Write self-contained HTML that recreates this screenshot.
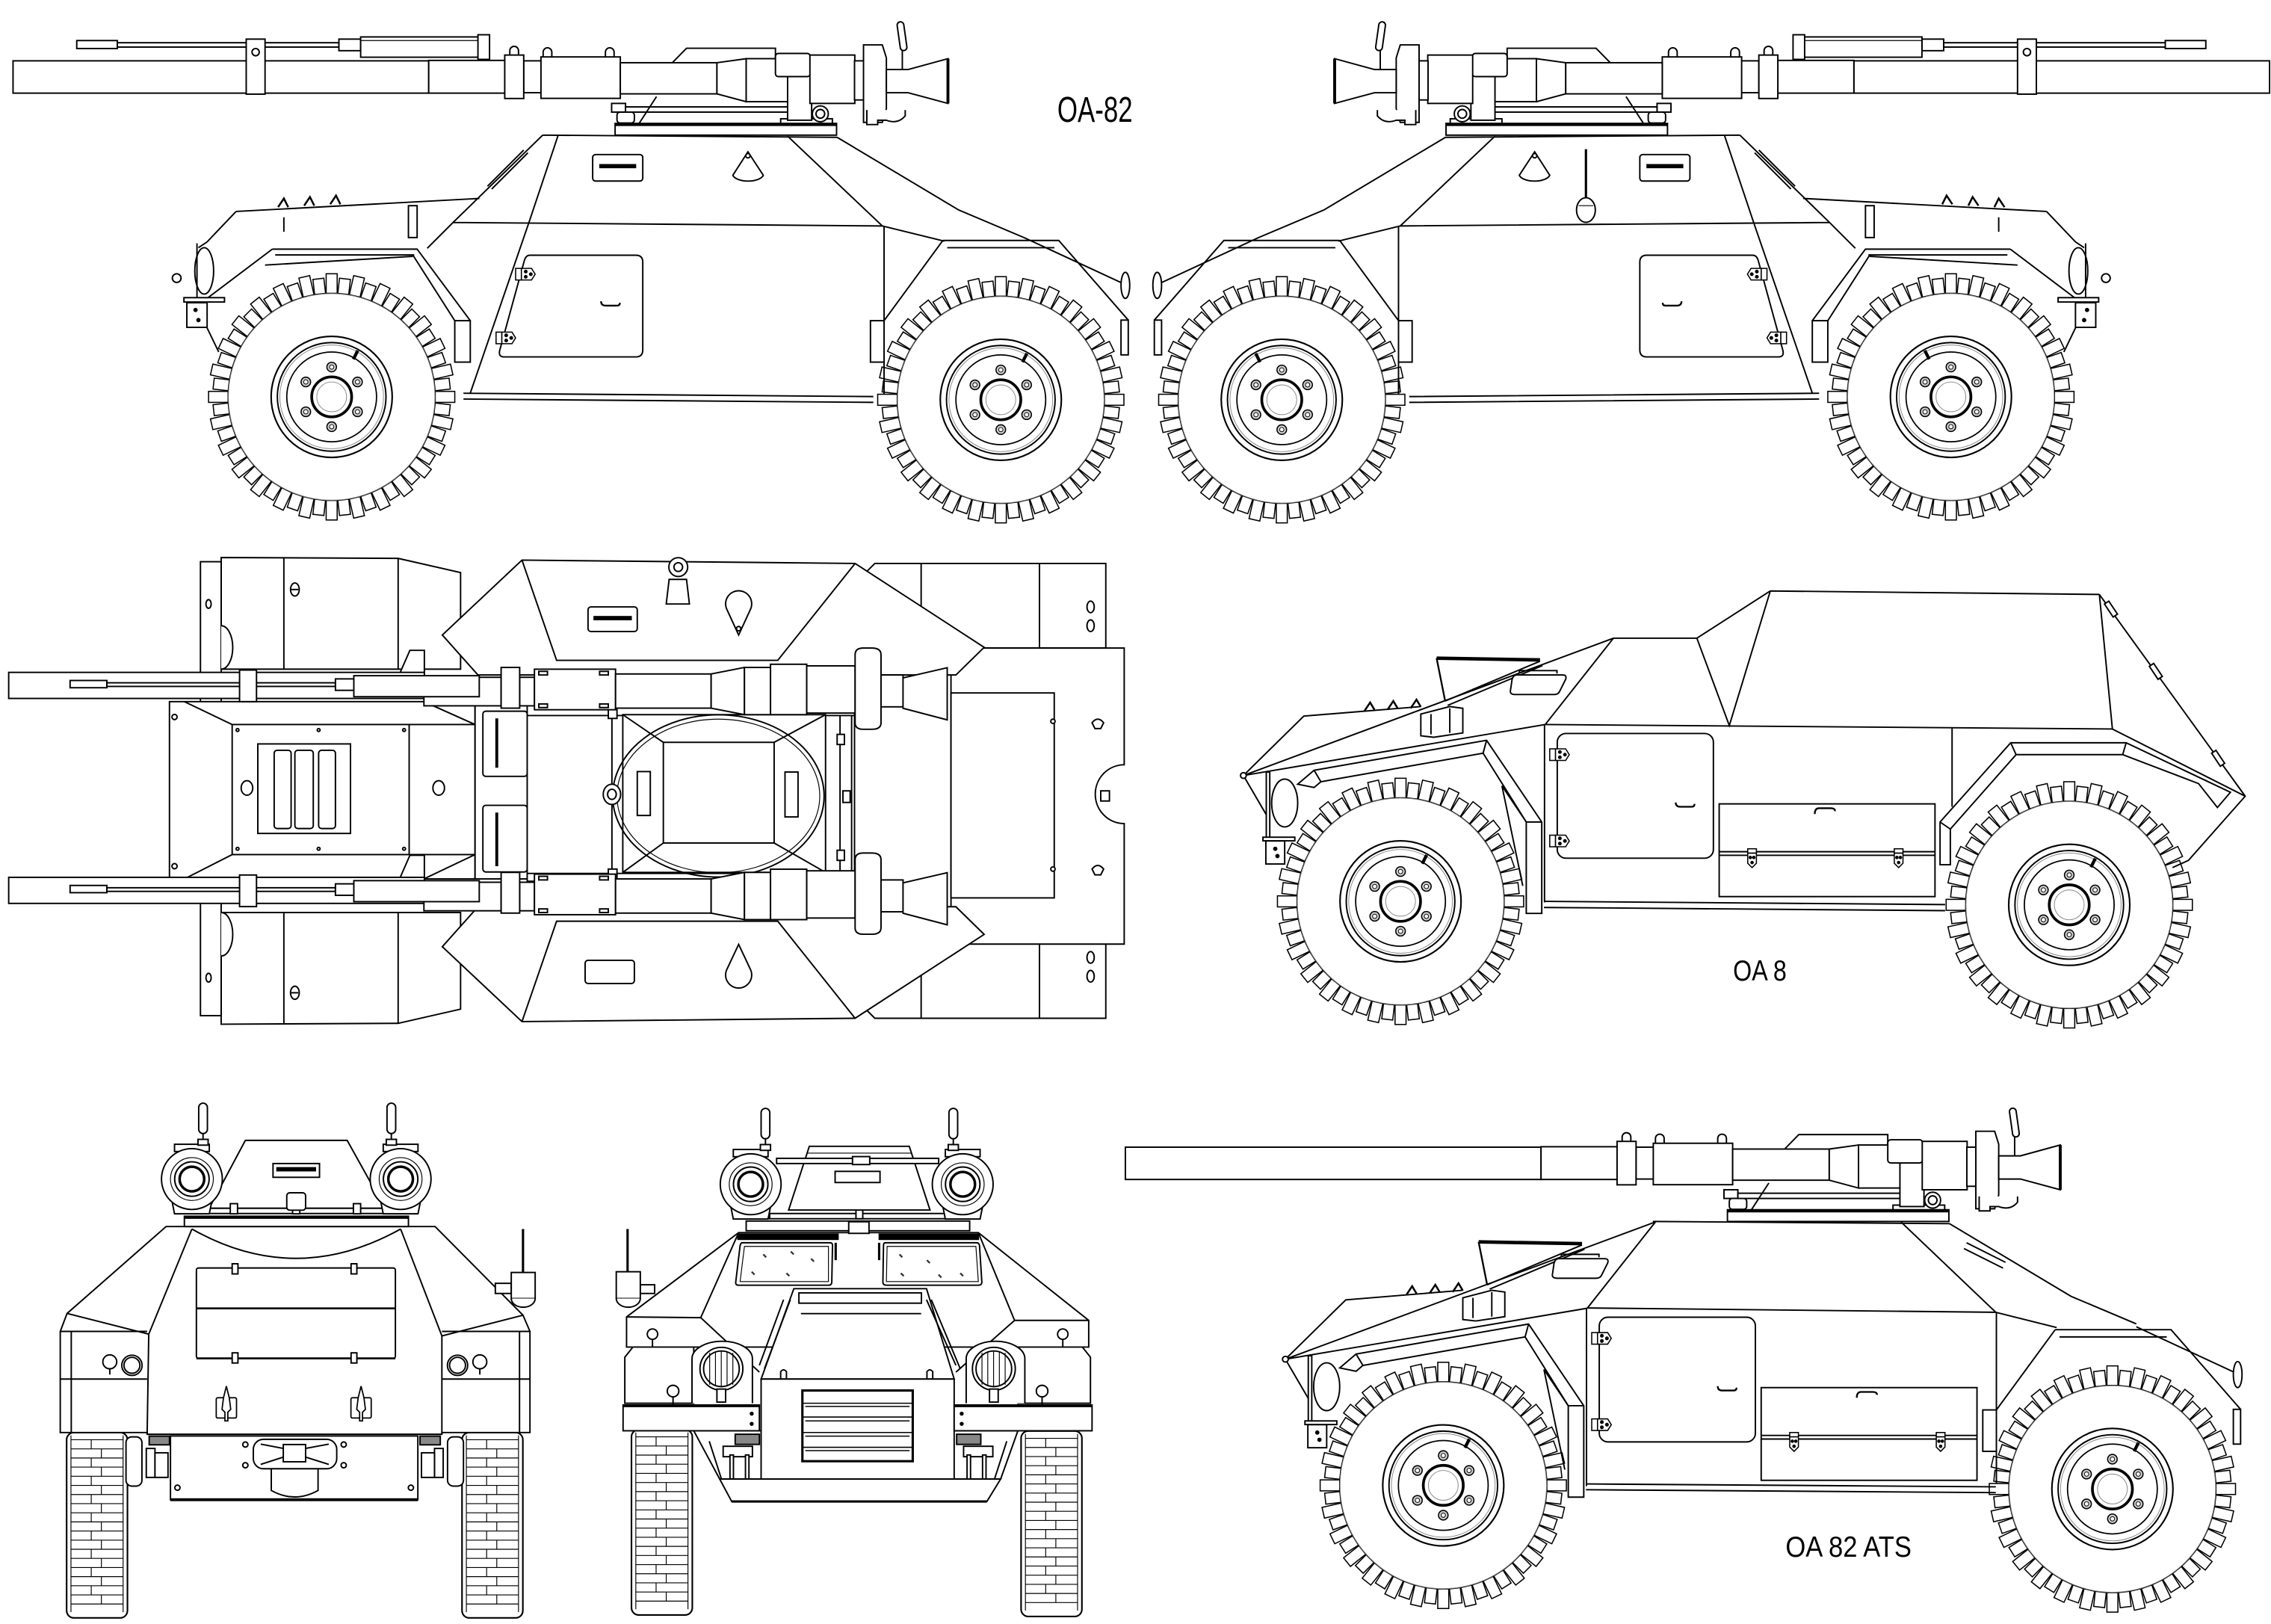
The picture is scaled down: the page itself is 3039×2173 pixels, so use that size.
<!DOCTYPE html>
<html><head><meta charset="utf-8"><style>html,body{margin:0;padding:0;background:#fff}svg{display:block}</style></head>
<body>
<svg xmlns="http://www.w3.org/2000/svg" width="3039" height="2173" viewBox="0 0 1568 1121.2" preserveAspectRatio="none">
<defs>
<rect id="tA" x="-3.8" y="-85" width="7.6" height="13.5"/>
<rect id="tB" x="-3.8" y="-82" width="7.6" height="10.5"/>
<g id="t2"><use href="#tA"/><use href="#tB" transform="rotate(6.43)"/></g>
<g id="wheel">
<circle r="72" fill="#fff" stroke="none"/>
<g fill="#fff" stroke="#000" stroke-width="0.8">
<use href="#t2"/><use href="#t2" transform="rotate(12.857)"/><use href="#t2" transform="rotate(25.714)"/><use href="#t2" transform="rotate(38.571)"/>
<use href="#t2" transform="rotate(51.429)"/><use href="#t2" transform="rotate(64.286)"/><use href="#t2" transform="rotate(77.143)"/><use href="#t2" transform="rotate(90)"/>
<use href="#t2" transform="rotate(102.857)"/><use href="#t2" transform="rotate(115.714)"/><use href="#t2" transform="rotate(128.571)"/><use href="#t2" transform="rotate(141.429)"/>
<use href="#t2" transform="rotate(154.286)"/><use href="#t2" transform="rotate(167.143)"/><use href="#t2" transform="rotate(180)"/><use href="#t2" transform="rotate(192.857)"/>
<use href="#t2" transform="rotate(205.714)"/><use href="#t2" transform="rotate(218.571)"/><use href="#t2" transform="rotate(231.429)"/><use href="#t2" transform="rotate(244.286)"/>
<use href="#t2" transform="rotate(257.143)"/><use href="#t2" transform="rotate(270)"/><use href="#t2" transform="rotate(282.857)"/><use href="#t2" transform="rotate(295.714)"/>
<use href="#t2" transform="rotate(308.571)"/><use href="#t2" transform="rotate(321.429)"/><use href="#t2" transform="rotate(334.286)"/><use href="#t2" transform="rotate(347.143)"/>
</g>
<circle r="71.3" fill="#fff" stroke="#777" stroke-width="0.5"/>
<g fill="none" stroke="#000">
<circle r="41.8" stroke-width="1.1"/>
<circle r="37.5" stroke-width="1"/>
<circle r="35.8" stroke="#888" stroke-width="0.5"/>
<circle r="31" stroke-width="0.9"/>
<circle r="13.8" stroke-width="1.9"/>
<circle r="10.3" stroke="#888" stroke-width="0.5"/>
</g>
<g fill="#ccc" stroke="#000" stroke-width="0.8">
<circle cx="0" cy="-20.6" r="3.3"/><circle cx="17.84" cy="-10.3" r="3.3"/><circle cx="17.84" cy="10.3" r="3.3"/>
<circle cx="0" cy="20.6" r="3.3"/><circle cx="-17.84" cy="10.3" r="3.3"/><circle cx="-17.84" cy="-10.3" r="3.3"/>
</g>
<g fill="#fff" stroke="#000" stroke-width="0.5">
<circle cx="0" cy="-20.6" r="1.5"/><circle cx="17.84" cy="-10.3" r="1.5"/><circle cx="17.84" cy="10.3" r="1.5"/>
<circle cx="0" cy="20.6" r="1.5"/><circle cx="-17.84" cy="10.3" r="1.5"/><circle cx="-17.84" cy="-10.3" r="1.5"/>
</g>
<line x1="15" y1="-26" x2="18" y2="-32" stroke="#000" stroke-width="2.2"/>
</g>

<g id="gun" fill="#fff" stroke="#000" stroke-width="1">
<rect x="422.3" y="71.4" width="9.6" height="6"/>
<rect x="426" y="77.4" width="12" height="7.5" rx="2"/>
<rect x="431.9" y="73.8" width="119" height="3.6"/>
<path d="M441.4,85 L453.3,66.7" fill="none"/>
<rect x="539" y="82" width="35.7" height="3.7"/>
<circle cx="566.4" cy="78.6" r="5.5"/><circle cx="566.4" cy="78.6" r="3"/>
<rect x="424.7" y="85.2" width="152.9" height="8.1"/>
<line x1="424.7" y1="86" x2="577.6" y2="86" stroke-width="2"/>
<polygon points="464,43.5 474,33.3 535.4,33.3 535.4,43.5"/>
<rect x="9" y="42" width="287" height="22.3"/>
<rect x="296" y="41.7" width="52.5" height="22.6"/>
<rect x="361.6" y="42" width="12" height="22"/>
<path d="M352,38 L352,35 A3,3 0 0 1 358,35 L358,38"/>
<rect x="348.5" y="38" width="13.1" height="30"/>
<path d="M375,39.3 L375,36 A3,3 0 0 1 381,36 L381,39.3 M418,39.3 L418,36 A3,3 0 0 1 424,36 L424,39.3"/>
<rect x="373.5" y="39.3" width="54.8" height="28.6"/>
<rect x="428.3" y="43.3" width="66.7" height="21.5"/>
<polygon points="495,43.3 515.2,40.5 515.2,70.2 495,64.8"/>
<rect x="515.2" y="40.5" width="28.6" height="29.7"/>
<rect x="543.8" y="40" width="16.6" height="43"/>
<rect x="535.4" y="36.9" width="24" height="16" rx="2"/>
<rect x="559.2" y="38" width="31" height="33.4"/>
<rect x="590" y="42" width="6.5" height="27"/>
<path d="M596.2,31 L609.2,31 L612,40 L612,75 L609.2,84.5 L596.2,84.5 Z"/>
<polygon points="612,48 627,48 654.5,40.5 654.5,71.4 627,64 612,64"/>
<line x1="654.5" y1="40.5" x2="654.5" y2="71.4" stroke-width="2"/>
<line x1="623" y1="35" x2="623" y2="48"/>
<rect x="620.5" y="15" width="4.6" height="20" rx="2.3" transform="rotate(-8 622.8 25)"/>
<path d="M598.5,76 L598.5,86 L606,86 L606,83 L612,83 Q620,86 625,80 L625,76"/>
</g>

<g id="rifle" fill="#fff" stroke="#000" stroke-width="1">
<rect x="53" y="28" width="28" height="5.5"/>
<rect x="81" y="29.5" width="153" height="3"/>
<rect x="234" y="27" width="15" height="8"/>
<rect x="249" y="25.5" width="87" height="14"/>
<line x1="249" y1="28" x2="336" y2="28" stroke-width="0.6"/>
<rect x="330" y="24" width="8" height="17"/>
<rect x="170" y="27" width="13" height="38"/>
<circle cx="176.5" cy="36" r="2.5"/>
</g>

<g id="rf" stroke="#000" stroke-width="1">
<path d="M651,166 L731,166 L779,221 M651,166 L610.4,221.4 M654,171 L728,171 M707,164 L776,196" fill="none"/>
<rect x="601" y="221.4" width="9.4" height="28.6" fill="#fff"/>
<rect x="774" y="221" width="5" height="24" fill="#fff"/>
<ellipse cx="777" cy="197" rx="3" ry="9" fill="#fff"/>
</g>

<g id="hinge" fill="#fff" stroke="#000" stroke-width="0.8">
<rect x="-3" y="-4" width="4" height="8"/>
<path d="M1,-4 L8,-4 L10.5,0 L8,4 L1,4 Z"/>
<circle cx="4" cy="-1.8" r="0.9" fill="#000"/><circle cx="4" cy="1.8" r="0.9" fill="#000"/><circle cx="7.5" cy="0" r="0.9" fill="#000"/>
</g>
<g id="lh" fill="#fff" stroke="#000" stroke-width="0.8">
<rect x="-3" y="-5" width="6" height="3"/>
<path d="M-3,-2 L3,-2 L3,5 L0,8 L-3,5 Z"/>
<circle cx="-1.2" cy="1" r="0.8" fill="#000"/><circle cx="1.2" cy="1" r="0.8" fill="#000"/><circle cx="0" cy="4.5" r="0.8" fill="#000"/>
</g>
<path id="hdl" d="M0,0 Q0,3 3,3 L11,3 Q13,3 13,1" fill="none" stroke="#000" stroke-width="1.2"/>

<g id="fr" fill="none" stroke="#000" stroke-width="1">
<path d="M858.5,535.4 L1114,440.6 M858.5,535.4 L1066.9,500.2 M858.5,535.4 L900.2,494.4 L981,487.8 M1114,440.6 L1066.9,500.2 M1066.4,500 L1066.4,623 M858.5,535.4 L875.2,564 M1037,542.5 L1051.4,611.6 M1037,542.5 L1053.8,567.5"/>
<path d="M942,491 l4,-6 l3,5 M958,490 l4,-6 l3,5 M974,489 l4,-6 l3,5" stroke-width="1.3"/>
<path d="M991.9,454.4 L1063.3,455.6" stroke-width="2.4"/>
<path d="M991.9,454.4 L997.8,484" stroke-width="1.2"/>
<path d="M997.8,484 L1063.3,456.5 M999.5,487 L1065,459.5"/>
<path d="M1047,466 L1079,466 Q1082,466 1081,469 L1077,477 Q1076,479.5 1073,479.5 L1046,479.5 Q1042,479.5 1043,476 L1044,469 Q1045,466 1047,466 Z" fill="#fff"/>
<path d="M1049,465 L1049,463 L1075,463 L1075,465"/>
<polygon points="981,493 1001,487.8 1010,489 1010,506 990,509 981,508" fill="#fff"/>
<path d="M988,493 L988,507 M1001,489 L1001,506"/>
<polygon points="896,541.4 907.3,531.8 1026.4,511.1 1064.5,567.5 1064.5,630.6 1053.8,630.6 1053.8,567.5 1024,520 912,539.7 907.3,543.7" fill="#fff"/>
<path d="M907.3,531.8 L912,539.7 M1026.4,511.1 L1024,520 M1053.8,567.5 L1064.5,567.5"/>
<ellipse cx="887" cy="554.4" rx="9" ry="16.5" fill="#fff"/>
<rect x="874.3" y="533" width="2.4" height="47.6" fill="#fff"/>
<rect x="872" y="578" width="22" height="2.5" fill="#fff"/>
<rect x="874" y="580.6" width="13" height="15.9" fill="#fff"/>
<circle cx="880.5" cy="586" r="1" fill="#000"/><circle cx="882" cy="591" r="1" fill="#000"/>
<circle cx="858.5" cy="535.4" r="2" fill="#fff"/>
<rect x="1075.2" y="506.4" width="107.8" height="86.1" rx="6" fill="#fff"/>
<use href="#hinge" x="1073" y="521"/><use href="#hinge" x="1073" y="580.6"/>
<use href="#hdl" x="1157" y="554"/>
<rect x="1187" y="555" width="149" height="64" fill="#fff"/>
<path d="M1187,588 L1336,588 M1187,590.5 L1336,590.5"/>
<use href="#lh" x="1209.7" y="591"/><use href="#lh" x="1310.9" y="591"/>
<path d="M1253,562 Q1253,558 1256,558 L1264,558 Q1267,558 1267,560" fill="none" stroke-width="1.2"/>
</g>

<g id="tt">
<rect x="0" y="0" width="42" height="128" rx="5" fill="#fff" stroke="#000" stroke-width="1.1"/>
<path d="M3,2 V124 M39,2 V124" stroke="#000" stroke-width="0.6" fill="none"/>
<path stroke="#000" stroke-width="0.6" fill="none" d="M3,5H39 M3,11.3H39 M3,17.6H39 M3,23.9H39 M3,30.2H39 M3,36.5H39 M3,42.8H39 M3,49.1H39 M3,55.4H39 M3,61.7H39 M3,68H39 M3,74.3H39 M3,80.6H39 M3,86.9H39 M3,93.2H39 M3,99.5H39 M3,105.8H39 M3,112.1H39 M3,118.4H39
M17,5V11.3 M24,11.3V17.6 M17,17.6V23.9 M24,23.9V30.2 M17,30.2V36.5 M24,36.5V42.8 M17,42.8V49.1 M24,49.1V55.4 M17,55.4V61.7 M24,61.7V68 M17,68V74.3 M24,74.3V80.6 M17,80.6V86.9 M24,86.9V93.2 M17,93.2V99.5 M24,99.5V105.8 M17,105.8V112.1 M24,112.1V118.4"/>
</g>

<g id="sight" fill="#fff" stroke="#000" stroke-width="1">
<path d="M-14,14 L-12,24 L12,24 L14,14"/>
<rect x="-12" y="-24" width="24" height="5"/>
<circle r="21"/>
<circle r="14.8" stroke-width="0.6"/>
<circle r="11.9"/>
<circle r="8.5" stroke-width="1.8"/>
</g>
<g id="hnd" fill="#fff" stroke="#000" stroke-width="1">
<line x1="0" y1="20" x2="0" y2="28"/>
<rect x="-3" y="0" width="6" height="21" rx="3"/>
<rect x="-3.5" y="25" width="7" height="4"/>
</g>
<g id="pin" fill="#fff" stroke="#000" stroke-width="0.9">
<rect x="-7" y="-6" width="14" height="14" rx="1"/>
<path d="M0,-14 L2,-6 L3,2 L1,4 L1,10 L-1,10 L-1,4 L-3,2 L-2,-6 Z"/>
</g>

<g id="pgun" fill="#fff" stroke="#000" stroke-width="1">
<polygon points="276,465 283,449 293,449 293,465"/>
<rect x="6" y="464.2" width="287" height="18"/>
<rect x="292.7" y="467.6" width="53.3" height="19.7"/>
<rect x="358.8" y="467.6" width="10.2" height="19.7"/>
<rect x="346" y="460.8" width="12.8" height="28.1"/>
<rect x="369" y="462" width="56" height="28"/>
<rect x="372" y="463.5" width="6" height="2.5"/><rect x="372" y="486" width="6" height="2.5"/>
<rect x="414" y="463.5" width="6" height="2.5"/><rect x="414" y="486" width="6" height="2.5"/>
<rect x="425" y="465.3" width="66" height="23.6"/>
<polygon points="491,465.3 514,460.8 514,493.4 491,488.9"/>
<rect x="514" y="460.8" width="18" height="32.6"/>
<rect x="532" y="458.6" width="25" height="34.8"/>
<rect x="557" y="459.7" width="33.4" height="32.6"/>
<path d="M590.4,452 Q590.4,447.4 596,447.4 L602,447.4 Q608.3,447.4 608.3,452 L608.3,499 Q608.3,503.5 602,503.5 L596,503.5 Q590.4,503.5 590.4,499 Z"/>
<rect x="608.3" y="466" width="15.2" height="22"/>
<polygon points="623.5,468 654,461 654,497 623.5,489"/>
<rect x="48.4" y="469.8" width="25.4" height="5"/>
<rect x="73.8" y="471.4" width="157.8" height="2.5"/>
<rect x="231.6" y="468.7" width="12.7" height="7.9"/>
<rect x="244.3" y="466.5" width="86.6" height="14.5"/>
<rect x="165.4" y="462.6" width="11.7" height="21.8"/>
</g>
</defs>

<!-- ============ TOP LEFT: OA-82 side ============ -->
<g id="tl">
<use href="#wheel" x="229" y="274"/>
<use href="#wheel" x="691" y="276"/>
<g fill="none" stroke="#000" stroke-width="1">
<path d="M374.7,93.3 L578,94.8 M374.7,93.3 L312.8,153.6 L295,171.4 M385.4,93.3 L365.2,153.6 L324.7,271.4 M543.8,94 L609.2,156 M578,94.8 L662,145 L707,164 M312.8,153.6 L609.2,156 L652,166.5 M610.4,156 L610.4,272 M320,271.5 L603,273.8 M320,275.5 L603,277.8 M163,146 L331,137 M163,146 L143,167 L137,171 M190,176 L286,176 M188,172 L143,206 M285,176 L314,221.4 M183,183 L285,177 M196,150 L196,160 M336.6,128.6 L361.6,103.6 M339.5,130.5 L364.5,105.5 M142.8,226 L151,243 M188,172 L288,172 L324.7,221.4"/>
<path d="M192,143 l4,-6 l3,6 M210,142 l4,-6 l3,6 M228,141 l4,-6 l3,6" stroke-width="1.3"/>
<rect x="282" y="142" width="6" height="22" fill="#fff"/>
<rect x="314" y="221.4" width="10.7" height="28.6" fill="#fff"/>
<ellipse cx="141" cy="187" rx="6.5" ry="16" fill="#fff"/>
<line x1="136" y1="168" x2="136" y2="210"/>
<rect x="127" y="205.5" width="28" height="3" fill="#fff"/>
<rect x="129" y="209" width="14" height="17" fill="#fff"/>
<circle cx="135" cy="214" r="1" fill="#000"/><circle cx="137" cy="221" r="1" fill="#000"/>
<circle cx="122" cy="192" r="3" fill="#fff"/>
<rect x="409.2" y="106.7" width="34.6" height="18.3" rx="2" fill="#fff"/>
<rect x="414" y="113.5" width="25" height="2.4" fill="#000" stroke-width="0.5"/>
<path d="M516.4,104.8 L506,121 A10.7,5 0 0 0 527,121 Z" fill="#fff"/>
<circle cx="516.4" cy="107.5" r="1.5"/>
<path d="M366,176.2 L439,176.2 Q443.8,176.2 443.8,181 L443.8,241.6 Q443.8,246.4 439,246.4 L348,246.4 Q344,246.4 345,242 L362,180 Q363,176.2 366,176.2 Z" fill="#fff"/>
</g>
<use href="#rf"/>
<use href="#hinge" x="359" y="189.3"/><use href="#hinge" x="345.5" y="233.3"/>
<use href="#hdl" x="415" y="208"/>
<use href="#gun"/>
<use href="#rifle"/>
</g>

<!-- ============ TOP RIGHT: mirrored ============ -->
<use href="#tl" transform="matrix(-1,0,0,1,1576,0)"/>
<g stroke="#000" fill="#fff">
<path d="M1095,103 L1095,138" stroke-width="1.6"/>
<ellipse cx="1095" cy="145" rx="6.5" ry="8.5" stroke-width="1"/>
<path d="M1090,142 L1100,142" stroke-width="0.6"/>
</g>
<text x="730" y="84" font-family="'Liberation Sans', sans-serif" font-size="25" textLength="52" lengthAdjust="spacingAndGlyphs" fill="#000">OA-82</text>

<!-- ============ PLAN VIEW ============ -->
<g stroke="#000" stroke-width="1" fill="#fff">
<path d="M598,395 L604,389 L763.5,389 L763.5,447.4 L598,447.4 Z"/>
<path d="M636,389 V447.4 M717.7,389 V447.4" fill="none"/>
<ellipse cx="753" cy="419" rx="2.5" ry="4"/><ellipse cx="753" cy="432" rx="2.5" ry="4"/>
<path d="M598,697 L604,703 L763.5,703 L763.5,645 L598,645 Z"/>
<path d="M636,645 V703 M717.7,645 V703" fill="none"/>
<ellipse cx="753" cy="661" rx="2.5" ry="4"/><ellipse cx="753" cy="674" rx="2.5" ry="4"/>
<path d="M656.6,447.4 L776.2,447.4 L776.2,528 A20,20.3 0 0 0 776.2,568.6 L776.2,651.8 L656.6,651.8 Z"/>
<rect x="656.6" y="478.4" width="71.3" height="141.5"/>
<circle cx="727" cy="498" r="1.5"/><circle cx="727" cy="600" r="1.5"/>
<path d="M754,499 Q758,494 762,499 L760,503 L756,503 Z"/><path d="M754,600 Q758,595 762,600 L760,604 L756,604 Z"/>
<rect x="760" y="546" width="6" height="7"/>
<path d="M152.7,384.9 L274.9,385.5 L318,395.3 L318,462 L152.7,462 Z"/>
<path d="M196,385 V462 M274.9,385.5 V462" fill="none"/>
<ellipse cx="203.6" cy="407" rx="3" ry="4.5"/><line x1="201" y1="407" x2="206" y2="407"/>
<path d="M152.7,707.1 L274.9,706.5 L318,696.7 L318,630 L152.7,630 Z"/>
<path d="M196,630 V707 M274.9,630 V706.5" fill="none"/>
<ellipse cx="203.6" cy="685.4" rx="3" ry="4.5"/><line x1="201" y1="685.4" x2="206" y2="685.4"/>
<rect x="138.4" y="387.8" width="14.3" height="313.4"/>
<ellipse cx="144" cy="417" rx="1.8" ry="3"/><ellipse cx="144" cy="675" rx="1.8" ry="3"/>
<path d="M152.7,432 A8,15 0 0 1 152.7,462"/>
<path d="M152.7,630 A8,15 0 0 1 152.7,660"/>
<path d="M305.4,438.4 L360.4,386.7 L590.4,389 L679.5,446.9 L660,466 L330,466 Z"/>
<path d="M360.4,386.7 L384.3,455.9 L537,455.9 L590.4,389" fill="none"/>
<rect x="406" y="419" width="34" height="17" rx="2"/>
<rect x="410" y="425.5" width="26" height="2.5" fill="#000" stroke-width="0.5"/>
<path d="M510,438.4 L502,421 A9,9 0 1 1 518,421 Z"/>
<circle cx="510" cy="434" r="1.5"/>
<path d="M462,400 L474,400 L476,417 L460,417 Z"/>
<circle cx="468.3" cy="391.5" r="6.5"/><circle cx="468.3" cy="391.5" r="3"/>
<path d="M305.4,653.6 L360.4,705.3 L590.4,703 L679.5,645.1 L660,626 L330,626 Z"/>
<path d="M360.4,705.3 L384.3,636 L537,636 L590.4,703" fill="none"/>
<rect x="404" y="663" width="34" height="16" rx="2"/>
<path d="M510,652 L502,669 A9,9 0 1 0 518,669 Z"/>
<rect x="117" y="484.4" width="211" height="122.4"/>
<rect x="160.3" y="500.2" width="167.7" height="89.8"/>
<path d="M282.5,500.2 V590 M127.3,484.4 L160.3,500.2 M292.7,484.4 L328,500.2 M127.3,606.8 L160.3,590 M292.7,606.8 L328,590" fill="none"/>
<circle cx="120.5" cy="495" r="1.8"/><circle cx="120.5" cy="598" r="1.8"/>
<circle cx="164" cy="504" r="1"/><circle cx="279" cy="504" r="1"/><circle cx="164" cy="586" r="1"/><circle cx="279" cy="586" r="1"/><circle cx="220" cy="586" r="1"/><circle cx="220" cy="504" r="1"/>
<rect x="178" y="513.6" width="64" height="61.8"/>
<rect x="189.3" y="518" width="11.7" height="54" rx="2"/>
<rect x="203.6" y="518" width="12.7" height="54" rx="2"/>
<rect x="220" y="518" width="11.6" height="54" rx="2"/>
<ellipse cx="170.5" cy="544" rx="4" ry="5"/><ellipse cx="302.9" cy="544" rx="4" ry="5"/>
<rect x="328" y="484.4" width="36" height="122.4"/>
<rect x="333.4" y="491" width="30.6" height="45" rx="2"/>
<rect x="333.4" y="556" width="30.6" height="46" rx="2"/>
<path d="M343,496 V530 M343,561 V598" fill="none" stroke-width="2"/>
<rect x="364" y="484.4" width="226" height="124"/>
<path d="M364,494 H590 M364,603 H590 M422.5,494 V603 M580,494 V603 M588,494 V603" fill="none"/>
<rect x="430" y="493.4" width="140" height="108.9"/>
<ellipse cx="496" cy="549.5" rx="73" ry="56" fill="none"/>
<ellipse cx="496" cy="549.5" rx="70" ry="53" fill="none" stroke-width="0.6"/>
<rect x="458" y="512.5" width="76.5" height="69.5"/>
<path d="M430,493.4 L458,512.5 M570,493.4 L534.5,512.5 M430,602.3 L458,582 M570,602.3 L534.5,582" fill="none"/>
<rect x="440" y="532.7" width="9" height="30.3"/>
<rect x="542" y="533" width="9" height="31"/>
<ellipse cx="422.5" cy="548.4" rx="6" ry="7"/><ellipse cx="422.5" cy="548.4" rx="3" ry="3.5"/>
<rect x="578" y="507" width="5" height="7"/><rect x="578" y="587" width="5" height="7"/><rect x="582" y="546" width="5" height="8"/>
<rect x="420" y="489" width="6" height="7"/><rect x="420" y="600" width="6" height="7"/>
</g>
<use href="#pgun"/>
<use href="#pgun" transform="translate(0,141.5)"/>

<!-- ============ OA 8 ============ -->
<use href="#wheel" x="967" y="622.3"/>
<use href="#wheel" x="1428.7" y="624.7"/>
<g fill="none" stroke="#000" stroke-width="1">
<path d="M1222.3,408 L1449.5,410.4 M1114,440.6 L1171.6,440.6 L1222.3,408 M1171.6,440.6 L1194,500.9 L1222.3,408 M1066.9,500.2 L1458.5,503.3 M1449.5,410.4 L1458.5,503.3 L1550.2,549.7 M1449.5,410.4 L1550.2,549.7 L1511,594 L1500,599 M1347.8,502 L1347.8,557 M1066,622.3 L1343,624.5 M1066,626.5 L1343,628.7"/>
<path d="M1453,417 L1456,415 L1462,424 L1459,426 Z M1484,460 L1487,458 L1493,467 L1490,469 Z M1527,520 L1530,518 L1536,527 L1533,529 Z" fill="#fff"/>
<polygon points="1339.5,567.5 1388.3,512.8 1468,512.8 1540,547 1531,557.5 1518,541 1465.6,521 1392,521 1346.6,572.4 1346.6,597 1339.5,597" fill="#fff"/>
<path d="M1388.3,512.8 L1392,521 M1468,512.8 L1465.6,521 M1339.5,567.5 L1346.6,572.4"/>
</g>
<use href="#fr"/>
<text x="1196.6" y="677" font-family="'Liberation Sans', sans-serif" font-size="20" textLength="37" lengthAdjust="spacingAndGlyphs" fill="#000">OA 8</text>

<!-- ============ OA 82 ATS ============ -->
<use href="#wheel" x="996.5" y="1025.5"/>
<use href="#wheel" x="1458.5" y="1028"/>
<g fill="none" stroke="#000" stroke-width="1">
<path d="M1141.2,843.3 L1346,844.8 M1312.6,843.7 L1378,906 M1346,844.8 L1430,895 L1475,914 M1095.9,903 L1378,906 L1420,916.5 M1378.4,906 L1378.4,1024 M1095,1024.5 L1378,1026.5 M1095,1028.5 L1378,1030.5"/>
<path d="M1357.8,858 L1384.7,871.5 M1356,862 L1383,875.5"/>
</g>
<use href="#rf" transform="translate(768,752)"/>
<use href="#fr" transform="translate(29,403)"/>
<use href="#gun" transform="translate(768,750)"/>
<text x="1232.8" y="1074.7" font-family="'Liberation Sans', sans-serif" font-size="20" textLength="87" lengthAdjust="spacingAndGlyphs" fill="#000">OA 82 ATS</text>

<!-- ============ REAR VIEW ============ -->
<use href="#tt" transform="translate(46,989)"/>
<use href="#tt" transform="translate(319,989)"/>
<g stroke="#000" stroke-width="1" fill="#fff">
<rect x="87" y="992" width="11" height="34" rx="4"/>
<rect x="101" y="1000" width="6" height="20"/>
<rect x="107" y="1003" width="9" height="17"/>
<rect x="103" y="991.5" width="14" height="6" fill="#888"/>
<rect x="309" y="992" width="11" height="34" rx="4"/>
<rect x="300" y="1000" width="6" height="20"/>
<rect x="291" y="1003" width="9" height="17"/>
<rect x="290" y="991.5" width="14" height="6" fill="#888"/>
<path d="M114.7,846.8 L300.4,846.8 L361.1,908 L365.9,919.2 L365.9,989 L305.1,989 L305.1,990.2 L101.6,990.2 L101.6,989 L41.6,989 L41.6,919.2 L46.3,906.8 Z"/>
<path fill="none" d="M46.3,906.8 L102.7,921.1 M361.1,908 L305.1,922.3 M132.5,848.5 L102.7,921.1 L101.6,990 M276.6,848.5 L305.1,922.3 L305.1,990 M41.6,919.2 L101.6,919.2 M305.1,919.2 L365.9,919.2 M49.2,919.2 V989 M358.7,919.2 V989 M41.6,952.1 H101.6 M305.1,952.1 H365.9 M132.5,848.5 Q204,889 276.6,848.5"/>
<rect x="135.6" y="875.4" width="137.4" height="62.4" rx="1.5"/>
<path d="M135.6,903.3 H273 M135.6,937.8 H273" fill="none" stroke-width="1.4"/>
<rect x="160.3" y="872.5" width="4" height="7"/><rect x="242.4" y="872.5" width="4" height="7"/>
<rect x="160.3" y="934" width="4" height="7"/><rect x="242.4" y="934" width="4" height="7"/>
<circle cx="75.8" cy="940.2" r="4.8"/><line x1="75.8" y1="945" x2="75.8" y2="949"/>
<circle cx="91.1" cy="942.6" r="7"/><circle cx="91.1" cy="942.6" r="5.5"/>
<circle cx="315.9" cy="942.6" r="7"/><circle cx="315.9" cy="942.6" r="5.5"/>
<circle cx="331.3" cy="940.2" r="4.8"/><line x1="331.3" y1="945" x2="331.3" y2="949"/>
<use href="#pin" x="156.3" y="971"/><use href="#pin" x="249.3" y="971"/>
<rect x="117.7" y="991.4" width="170.8" height="44"/>
<line x1="117.7" y1="1035.4" x2="288.5" y2="1035.4" stroke-width="2"/>
<path d="M187.3,1014 V1029 Q203.5,1038 219.6,1029 V1014" />
<rect x="174.9" y="993.7" width="57.6" height="20.3" rx="7"/>
<rect x="195.6" y="997.3" width="15.4" height="11.9"/>
<path fill="none" d="M180,997 L195.6,1000 M180,1011 L195.6,1006 M227,997 L211,1000 M227,1011 L211,1006"/>
<circle cx="169.4" cy="997.3" r="1.8"/><circle cx="237.3" cy="997.3" r="1.8"/><circle cx="169.4" cy="1011.6" r="1.8"/><circle cx="237.3" cy="1011.6" r="1.8"/><circle cx="122.5" cy="1027.1" r="1.8"/><circle cx="283.7" cy="1027.1" r="1.8"/>
<rect x="127.3" y="839.7" width="154.7" height="7.1"/>
<line x1="127.3" y1="840.5" x2="282" y2="840.5" stroke-width="2"/>
<polygon points="169.4,787.3 239.7,787.3 265.8,834.2 144.4,834.2"/>
<rect x="144.4" y="834.2" width="121.4" height="3.6"/>
<rect x="159" y="831" width="5" height="7"/><rect x="202" y="831" width="5" height="7"/><rect x="244" y="831" width="5" height="7"/>
<rect x="198" y="823.5" width="13" height="12" rx="2"/>
<rect x="188.5" y="803.3" width="32.1" height="9.5"/>
<rect x="191" y="806" width="27" height="2.5" fill="#000" stroke-width="0.5"/>
<path d="M361.1,848.5 V879.5" stroke-width="1.6"/>
<rect x="342" y="886" width="11" height="7"/>
<rect x="353" y="878.5" width="16.5" height="18"/>
<path d="M353,896.5 A8.25,6 0 0 0 369.5,896.5"/>
</g>
<use href="#sight" x="132.5" y="814"/><use href="#sight" x="276.6" y="814"/>
<use href="#hnd" x="140.2" y="761.6"/><use href="#hnd" x="270.2" y="761.6"/>

<!-- ============ FRONT VIEW ============ -->
<use href="#tt" transform="translate(436,987)"/>
<use href="#tt" transform="translate(705,988)"/>
<g stroke="#000" stroke-width="1" fill="#fff">
<polygon points="479,987.8 496.9,1021.1 690.9,1021.1 702.8,987.8"/>
<rect x="507.6" y="990.2" width="16.7" height="7" fill="#888"/>
<rect x="499.3" y="998.5" width="20.2" height="7.2"/>
<rect x="504" y="1004.5" width="2.4" height="17.8"/><rect x="514.7" y="1004.5" width="2.4" height="17.8"/>
<rect x="660.5" y="990.2" width="16.7" height="7" fill="#888"/>
<rect x="665.3" y="998.5" width="20.2" height="7.2"/>
<rect x="678.4" y="1004.5" width="2.4" height="17.8"/><rect x="667.7" y="1004.5" width="2.4" height="17.8"/>
<path fill="none" d="M489.7,995 L498.1,1021 M695.1,995 L686.7,1021"/>
<polygon points="496.9,1021.1 505.2,1036.6 681.4,1036.6 690.9,1021.1"/>
<line x1="505.2" y1="1036.6" x2="681.4" y2="1036.6" stroke-width="1.6"/>
<polygon points="510,851 675.5,851 751.7,911.6 751.7,930 432.6,930 432.6,909.2"/>
<path fill="none" d="M432.6,909.2 L483.8,909.7 L510,851 M483.8,909.7 L524.3,947.3 M675.5,851 L700.5,911.6 L751.7,911.6 M700.5,911.6 L660,947.3"/>
<polygon points="431.4,937 437,930 479,930 479,968.8 431.4,968.8"/>
<polygon points="702.8,930 747.3,930 752.9,937 752.9,968.8 702.8,968.8"/>
<polygon points="548.1,889.7 639.7,889.7 658.8,952.1 525.5,952.1"/>
<rect x="551.6" y="892.6" width="84.6" height="7.1"/>
<path fill="none" d="M553,906.9 H636 M541,897.3 L524.3,942.6 M545.7,897.3 L527.8,945 M639.7,897.3 L660,942.6 M643,897.3 L663,945"/>
<rect x="525.5" y="952.1" width="133.3" height="69"/>
<rect x="554" y="960" width="76.2" height="48.8" stroke-width="1.6"/>
<path fill="none" d="M554,968.8 H630.2 M554,978.3 H630.2 M554,989 H630.2 M554,999.2 H630.2 M556,971 H628 M556,981 H628 M556,991.5 H628 M556,1001.5 H628" stroke-width="0.8"/>
<path d="M539,952 L539,947 Q541,944.5 543,947 L543,952 Z M640,952 L640,947 Q642,944.5 644,947 L644,952 Z"/>
<path d="M477.8,968.8 L477.8,938 A20.85,12 0 0 1 519.5,938 L519.5,968.8"/>
<circle cx="498.1" cy="945" r="14.8"/><circle cx="498.1" cy="945" r="12.3"/>
<path fill="none" stroke-width="0.6" d="M490,934 V956 M494,933 V957 M498,933 V957 M502,933 V957 M506,934 V956"/>
<rect x="495" y="959" width="6" height="9"/>
<path d="M667.1,968.8 L667.1,938 A20.25,12 0 0 1 707.6,938 L707.6,968.8"/>
<circle cx="686.2" cy="945" r="14.8"/><circle cx="686.2" cy="945" r="12.3"/>
<path fill="none" stroke-width="0.6" d="M678,934 V956 M682,933 V957 M686,933 V957 M690,933 V957 M694,934 V956"/>
<rect x="683.2" y="959" width="6" height="9"/>
<circle cx="450.5" cy="921.1" r="3.6"/><line x1="450.5" y1="924.7" x2="450.5" y2="930"/>
<circle cx="733.8" cy="921.1" r="3.6"/><line x1="733.8" y1="924.7" x2="733.8" y2="930"/>
<circle cx="464.7" cy="960.4" r="4"/><line x1="464.7" y1="964.4" x2="464.7" y2="970"/>
<circle cx="719.5" cy="960.4" r="4"/><line x1="719.5" y1="964.4" x2="719.5" y2="970"/>
<rect x="430.2" y="970" width="94.1" height="17.8"/>
<line x1="430.2" y1="970.5" x2="524.3" y2="970.5" stroke-width="2"/>
<rect x="658.8" y="970" width="95.2" height="17.8"/>
<line x1="658.8" y1="970.5" x2="754" y2="970.5" stroke-width="2"/>
<circle cx="519" cy="976" r="0.9" fill="#000"/><circle cx="519" cy="983" r="0.9" fill="#000"/>
<circle cx="664" cy="976" r="0.9" fill="#000"/><circle cx="664" cy="983" r="0.9" fill="#000"/>
<path d="M512.4,858 L573.1,858 Q575,858 574.8,860 L574.3,885 Q574.3,887.3 572,887.3 L510,887.3 Q507.6,887.3 508,885 L511,860 Q511.5,858 512.4,858 Z"/>
<path fill="none" stroke-width="0.6" d="M514,860.5 L572,860.5 L572,884.8 L511,884.8 Z"/>
<path d="M611.2,858 L674.3,858 Q676,858 676.3,860 L677.9,885 Q678,887.3 675.5,887.3 L612,887.3 Q609.5,887.3 609.6,885 L610,860 Q610,858 611.2,858 Z"/>
<path fill="none" stroke-width="0.6" d="M612.5,860.5 L673.8,860.5 L675.5,884.8 L612,884.8 Z"/>
<path fill="none" stroke="#333" stroke-width="1.2" d="M527,866 l2,2 M546,864 l2,2 M560,869 l2,2 M519,878 l2,2 M543,879 l2,2 M621,866 l2,2 M640,870 l2,2 M622,879 l2,2 M648,880 l2,2 M663,879 l2,2"/>
<path d="M577,858 L577,870 M607,858 L607,870" stroke-width="1.6"/>
<rect x="509.5" y="852.1" width="69.1" height="3.5" fill="#000"/>
<rect x="607.1" y="852.1" width="68.4" height="3.5" fill="#000"/>
<rect x="515.2" y="843" width="154.3" height="6.7"/>
<rect x="586" y="843.5" width="14" height="8"/>
<rect x="531.4" y="837.8" width="121.4" height="3.6"/>
<rect x="591" y="835.4" width="4.7" height="6"/>
<polygon points="558.8,791.4 627.8,791.4 642.1,835.4 544.5,835.4"/>
<line x1="557" y1="796.1" x2="629.5" y2="796.1" stroke-width="0.6"/>
<rect x="536.2" y="799.7" width="111.9" height="3.6"/>
<rect x="588.6" y="798.5" width="11.9" height="5.5"/>
<rect x="576.6" y="808.7" width="31" height="7.7"/>
<path fill="none" d="M433.3,848.5 V878" stroke-width="1.6"/>
<rect x="442" y="887" width="10" height="6"/>
<rect x="425.5" y="878" width="16.6" height="18.5"/>
<path d="M425.5,896.5 A8.3,6 0 0 0 442.1,896.5"/>
</g>
<use href="#sight" x="518.3" y="817.6"/><use href="#sight" x="664.7" y="817.6"/>
<use href="#hnd" x="528.5" y="765.2"/><use href="#hnd" x="658.2" y="765.2"/>
</svg>
</body></html>
